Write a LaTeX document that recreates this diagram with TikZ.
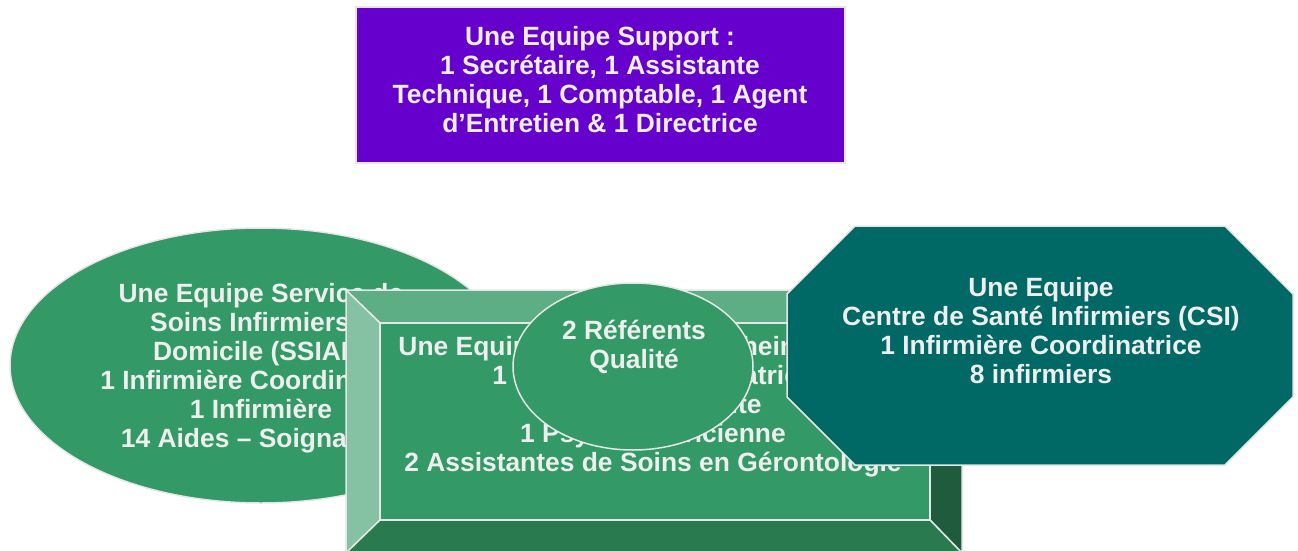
\documentclass[tikz,border=0pt]{standalone}
\usepackage{fontspec}
\setmainfont{Liberation Sans}
\definecolor{support}{HTML}{6600CC}
\definecolor{soins}{HTML}{339966}
\definecolor{csi}{HTML}{006966}
\definecolor{bevtop}{HTML}{5DAE84}
\definecolor{bevleft}{HTML}{85C2A3}
\definecolor{bevright}{HTML}{1F5C3D}
\definecolor{bevbottom}{HTML}{2A7A4F}
\definecolor{rim}{HTML}{E6E6E6}
\definecolor{txt}{HTML}{EEEEEE}
\tikzstyle{team}=[draw=rim,line width=1.5pt,line join=miter]
\tikzstyle{teamtext}=[text=txt,font=\fontsize{26.4}{29}\selectfont\bfseries,align=center,inner sep=0pt]

\begin{document}
\begin{tikzpicture}[x=1pt,y=-1pt]
    \useasboundingbox (0,0) rectangle (1298,551);
    % SSIAD
    \filldraw [team,fill=soins] (261,365.5) ellipse (251 and 137.5);
    \node [teamtext] (ssiad) at (261,368) {Une Equipe Service de\\Soins Infirmiers à\\Domicile (SSIAD)\\1 Infirmière Coordinatrice\\1 Infirmière\\14 Aides – Soignantes};
    % ESA, bevelled box
    \filldraw [team,fill=bevtop] (346,290) -- (962,290) -- (930,323) -- (380,323) -- cycle;
    \filldraw [team,fill=bevleft] (346,290) -- (380,323) -- (380,520) -- (346,553) -- cycle;
    \filldraw [team,fill=bevright] (962,290) -- (962,553) -- (930,520) -- (930,323) -- cycle;
    \filldraw [team,fill=bevbottom] (380,520) -- (930,520) -- (962,553) -- (346,553) -- cycle;
    \filldraw [team,fill=soins] (380,323) rectangle (930,520);
    \node [teamtext] (esa) at (653,407) {Une Equipe Spécialisée Alzheimer (ESA)\\1 Infirmière Coordinatrice\\1 Ergothérapeute\\1 Psychomotricienne\\2 Assistantes de Soins en Gérontologie};
    % qualite
    \filldraw [team,fill=soins] (633,366.5) ellipse (120 and 83.5);
    \node [teamtext] (qualite) at (634,347) {2 Référents\\Qualité};
    % CSI
    \filldraw [team,fill=csi] (855,226) -- (1225,226) -- (1293,294) -- (1293,397)
      -- (1225,465) -- (855,465) -- (787,397) -- (787,294) -- cycle;
    \node [teamtext] (csi) at (1041,331) {Une Equipe\\Centre de Santé Infirmiers (CSI)\\1 Infirmière Coordinatrice\\8 infirmiers};
    % support
    \filldraw [team,fill=support] (356,7) rectangle (845,163);
    \node [teamtext] (support) at (600,80) {Une Equipe Support :\\1 Secrétaire, 1 Assistante\\Technique, 1 Comptable, 1 Agent\\d’Entretien \& 1 Directrice};
\end{tikzpicture}
\end{document}
